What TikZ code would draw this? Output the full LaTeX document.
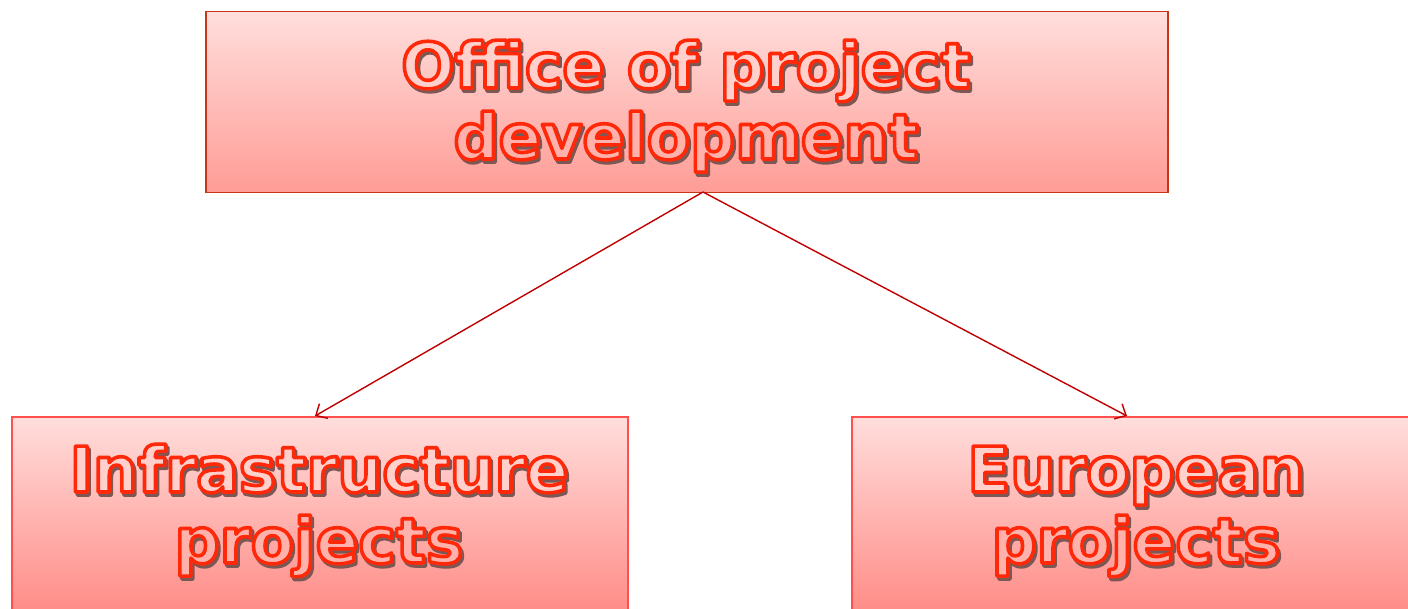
\documentclass[tikz,border=0pt]{standalone}
\usepackage{fontspec}
\setmainfont{DejaVu Sans}
\usetikzlibrary{arrows.meta}
\definecolor{topline}{HTML}{C8361A}
\definecolor{botline}{HTML}{FF5050}
\definecolor{gtop}{HTML}{FFDEDC}
\definecolor{gbot}{HTML}{FF9C96}
\definecolor{gbot2}{HTML}{FF8883}
\definecolor{shad}{HTML}{7E5654}
\definecolor{fill1}{HTML}{FFD0CC}
\definecolor{fill2}{HTML}{FFB2AC}
\definecolor{arr}{HTML}{C00000}
\tikzset{
  boxstyle/.style={inner sep=0pt, anchor=north west, line width=1.5pt},
  lbl/.style={font=\fontsize{63}{71}\selectfont\bfseries, inner sep=0pt, anchor=base},
  shadowlbl/.style={lbl, text=shad},
  conn/.style={draw=arr, line width=1.4pt, -{Straight Barb[length=9pt,width=17pt,line width=1.4pt]}}
}
% outlined text: fill + stroke render mode
\newcommand{\olbl}[1]{\special{pdf:literal direct 2 Tr 3.6 w 1 0.16 0.04 RG 1 j}#1\special{pdf:literal direct 0 Tr}}
\newcommand{\slbl}[1]{\special{pdf:literal direct 2 Tr 3.6 w 0.49 0.34 0.33 RG 1 j}#1\special{pdf:literal direct 0 Tr}}
\begin{document}
\begin{tikzpicture}[x=1pt,y=-1pt]
\useasboundingbox (0,0) rectangle (1408,609);
\clip (0,0) rectangle (1408,609);
% boxes
\node[boxstyle, draw=topline, top color=gtop, bottom color=gbot, minimum width=962pt, minimum height=181pt] (top) at (205,11) {};
\node[boxstyle, draw=botline, top color=gtop, bottom color=gbot2, minimum width=616pt, minimum height=205pt] (left) at (11,416) {};
\node[boxstyle, draw=botline, top color=gtop, bottom color=gbot2, minimum width=570pt, minimum height=205pt] (right) at (851,416) {};
% connectors
\coordinate (src) at (703,192);
\coordinate (tipl) at (315,416);
\coordinate (tipr) at (1127,416);
\draw[conn] (src) -- (tipl);
\draw[conn] (src) -- (tipr);
% shadows
\node[shadowlbl] (s1) at (688,91) {\slbl{Office of project}};
\node[shadowlbl] (s2) at (688,162) {\slbl{development}};
\node[shadowlbl] (s3) at (321,495) {\slbl{Infrastructure}};
\node[shadowlbl] (s4) at (321,566) {\slbl{projects}};
\node[shadowlbl] (s5) at (1138,495) {\slbl{European}};
\node[shadowlbl] (s6) at (1138,566) {\slbl{projects}};
% labels
\node[lbl, text=fill1] (t1) at (686,88) {\olbl{Office of project}};
\node[lbl, text=fill2] (t2) at (686,159) {\olbl{development}};
\node[lbl, text=fill1] (t3) at (319,492) {\olbl{Infrastructure}};
\node[lbl, text=fill2] (t4) at (319,563) {\olbl{projects}};
\node[lbl, text=fill1] (t5) at (1136,492) {\olbl{European}};
\node[lbl, text=fill2] (t6) at (1136,563) {\olbl{projects}};
\end{tikzpicture}
\end{document}
